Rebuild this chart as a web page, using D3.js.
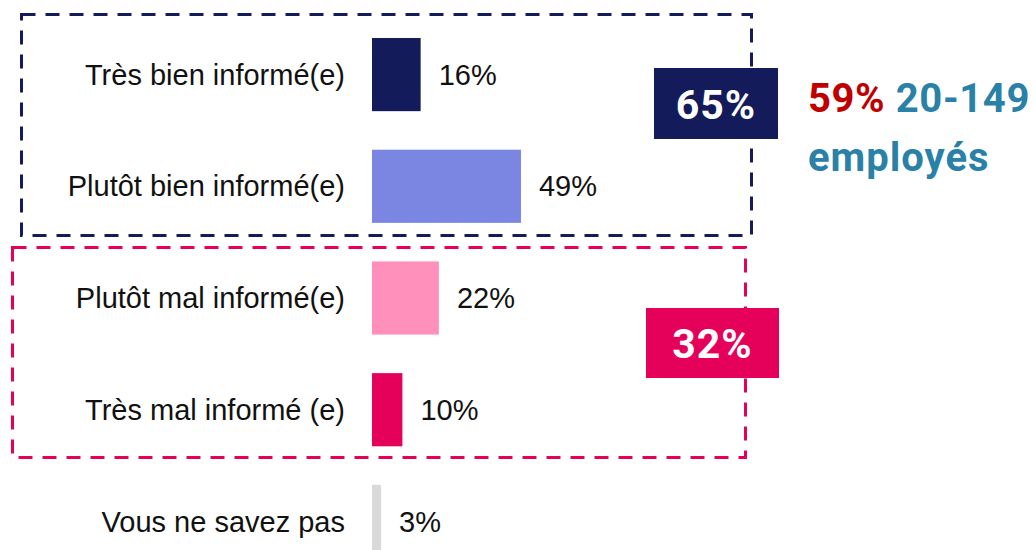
<!DOCTYPE html>
<html>
<head>
<meta charset="utf-8">
<style>
body { margin: 0; background: #ffffff; }
svg { display: block; }
.lbl { font-family: "Liberation Sans", Arial, sans-serif; font-size: 29px; fill: #111111; }
.big { font-family: Roboto, "Liberation Sans", sans-serif; font-weight: bold; }
</style>
</head>
<body>
<script src="https://d3js.org/d3.v7.min.js"></script>
<script>
'use strict';
const categories = ['Très bien informé(e)', 'Plutôt bien informé(e)', 'Plutôt mal informé(e)', 'Très mal informé (e)', 'Vous ne savez pas'];
const values = [16, 49, 22, 10, 3];
const colors = ['#141b5a', '#7b86e2', '#ff8fbb', '#e5005a', '#d9d9d9'];
const groupTotals = [65, 32];
const note = ['59%', '20-149', 'employés'];

const width = 1035, height = 550;

const svg = d3.select('body').append('svg')
	.attr('width', width)
	.attr('height', height);

// scales
const x = d3.scaleLinear().domain([0, 100]).range([372, 676]);
const y = d3.scaleBand().domain(categories).range([19, 577]).paddingInner(0.345).paddingOuter(0.17);

// dashed group boxes
svg.append('rect')
	.attr('x', 21.5).attr('y', 14.5).attr('width', 730).attr('height', 221)
	.attr('fill', 'none').attr('stroke', '#141b5a').attr('stroke-width', 3)
	.attr('stroke-dasharray', '14,10');
svg.append('rect')
	.attr('x', 12.5).attr('y', 247.5).attr('width', 733).attr('height', 210)
	.attr('fill', 'none').attr('stroke', '#e5005a').attr('stroke-width', 3)
	.attr('stroke-dasharray', '14,10');

// bars
svg.selectAll('rect.bar')
	.data(values)
	.enter()
	.append('rect')
	.attr('class', 'bar')
	.attr('x', x(0))
	.attr('y', (d, i) => y(categories[i]))
	.attr('width', d => x(d) - x(0))
	.attr('height', y.bandwidth())
	.attr('fill', (d, i) => colors[i]);

// category labels
svg.selectAll('text.cat')
	.data(categories)
	.enter()
	.append('text')
	.attr('class', 'lbl cat')
	.attr('x', 345)
	.attr('y', d => y(d) + y.bandwidth() / 2)
	.attr('dy', '0.35em')
	.attr('text-anchor', 'end')
	.text(d => d);

// value labels
svg.selectAll('text.val')
	.data(values)
	.enter()
	.append('text')
	.attr('class', 'lbl val')
	.attr('x', d => x(d) + 18)
	.attr('y', (d, i) => y(categories[i]) + y.bandwidth() / 2)
	.attr('dy', '0.35em')
	.text(d => d + '%');

// group total boxes
const totals = [
	{v: groupTotals[0], x: 654, y: 68, w: 124, h: 71, c: '#141b5a'},
	{v: groupTotals[1], x: 646, y: 308, w: 133, h: 70, c: '#e5005a'}
];
totals.forEach(t => {
	svg.append('rect').attr('x', t.x).attr('y', t.y).attr('width', t.w).attr('height', t.h).attr('fill', t.c);
	svg.append('text').attr('class', 'big')
		.attr('x', t.x + t.w / 2).attr('y', t.y + t.h / 2 + 15)
		.attr('text-anchor', 'middle').attr('font-size', 41).attr('letter-spacing', 1).attr('fill', '#ffffff')
		.text(t.v + '%');
});

// side note
const n1 = svg.append('text').attr('class', 'big').attr('x', 808).attr('y', 112).attr('font-size', 40).attr('letter-spacing', 0.6);
n1.append('tspan').attr('fill', '#c00000').text(note[0]);
n1.append('tspan').attr('fill', '#2a81a8').text(' ' + note[1]);
svg.append('text').attr('class', 'big').attr('x', 808).attr('y', 171).attr('font-size', 40).attr('letter-spacing', 1)
	.attr('fill', '#2a81a8').text(note[2]);
</script>
</body>
</html>
